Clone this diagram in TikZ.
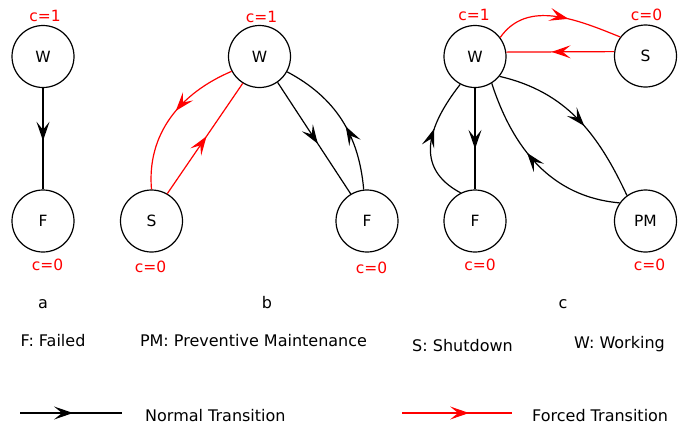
\documentclass[tikz,border=0pt]{standalone}
\usepackage{fontspec}
\setmainfont{DejaVu Sans}
\usetikzlibrary{arrows.meta,decorations.markings}
\begin{document}
\begin{tikzpicture}[x=1pt,y=1pt,
 state/.style={circle,draw,line width=1.2pt,minimum size=62pt,inner sep=0pt,font=\fontsize{15.5}{18}\selectfont},
 clab/.style={text=red,anchor=base,font=\fontsize{15.5}{18}\selectfont,inner sep=0pt},
 edge/.style={line width=1.2pt},
 forced/.style={edge,red},
 mid/.style={postaction={decorate},decoration={markings,mark=at position #1 with {\arrow{Stealth[length=19pt,width=13pt,inset=8pt]}}}},
 mid/.default=0.5,
 legend/.style={font=\fontsize{16}{19}\selectfont,inner sep=0pt}
]
\useasboundingbox (0,0) rectangle (688,-429);

% diagram a
\node[state] (aW) at (43,-56.5) {W};
\node[state] (aF) at (43,-221) {F};
\node[clab] (aWc) at (45,-21.5) {c=1};
\node[clab] (aFc) at (47.5,-270) {c=0};
\draw[edge,mid=0.52] (aW) -- (aF);

% diagram b
\node[state] (bW) at (259.5,-56.5) {W};
\node[state] (bS) at (151.5,-221) {S};
\node[state] (bF) at (367,-221) {F};
\node[clab] (bWc) at (261.5,-22) {c=1};
\node[clab] (bSc) at (150.5,-272) {c=0};
\node[clab] (bFc) at (371.5,-273) {c=0};
\draw[forced,mid=0.45] (bW.208) to[out=203,in=95] (bS.90);
\draw[forced,mid=0.52] (bS.60) -- (bW.238);
\draw[edge,mid=0.55] (bW.305) -- (bF.121);
\draw[edge,mid=0.45] (bF.96) to[out=95,in=332] (bW.331);

% diagram c
\node[state] (cW) at (475,-56.5) {W};
\node[state] (cS) at (645.5,-56) {S};
\node[state] (cF) at (475,-221) {F};
\node[state] (cPM) at (645.5,-221) {PM};
\node[clab] (cWc) at (474,-20.5) {c=1};
\node[clab] (cSc) at (646.5,-20) {c=0};
\node[clab] (cFc) at (480,-270) {c=0};
\node[clab] (cPMc) at (649.5,-270) {c=0};
\draw[forced,mid=0.58] (cW.37) to[out=55,in=158] (cS.143);
\draw[forced,mid=0.58] (cS.172) -- (cW.8);
\draw[edge,mid=0.6] (cW) -- (cF);
\draw[edge,mid=0.6] (cF.117) to[out=152,in=232,looseness=1.25] (cW.242);
\draw[edge,mid=0.55] (cW.321) to[out=-13,in=115] (cPM.126);
\draw[edge,mid=0.58] (cPM.145) to[out=175,in=288] (cW.302);

% captions
\node[legend,anchor=base] (capa) at (43,-308) {a};
\node[legend,anchor=base] (capb) at (267,-308) {b};
\node[legend,anchor=base] (capc) at (563,-308) {c};

\node[legend,anchor=base] (kF) at (53,-346) {F: Failed};
\node[legend,anchor=base] (kPM) at (253.5,-346) {PM: Preventive Maintenance};
\node[legend,anchor=base] (kS) at (462.5,-351) {S: Shutdown};
\node[legend,anchor=base] (kW) at (619.5,-348) {W: Working};

% legend
\coordinate (n1) at (20,-413);
\coordinate (n2) at (122,-413);
\draw[edge,mid=0.52] (n1) -- (n2);
\node[legend,anchor=base west] (nt) at (145,-421) {Normal Transition};
\coordinate (f1) at (402,-413);
\coordinate (f2) at (512,-413);
\draw[forced,mid=0.61] (f1) -- (f2);
\node[legend,anchor=base west] (ft) at (532,-421) {Forced Transition};
\end{tikzpicture}
\end{document}
